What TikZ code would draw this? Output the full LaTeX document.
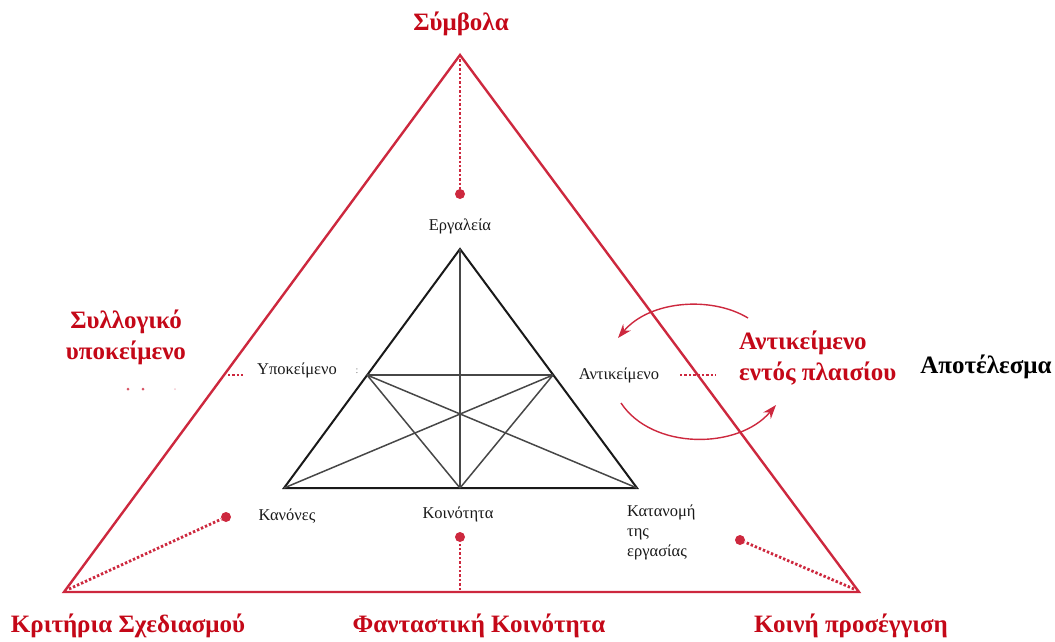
\documentclass[tikz,border=0pt]{standalone}
\usepackage{fontspec}
\setmainfont{Liberation Serif}
\usetikzlibrary{arrows.meta}
\definecolor{lred}{RGB}{205,40,62}
\definecolor{tred}{RGB}{196,8,24}
\definecolor{ink}{RGB}{25,25,25}
\tikzset{
  bigred/.style={text=tred,font=\bfseries\fontsize{25}{31}\selectfont,inner sep=0pt},
  bigblack/.style={text=black,font=\bfseries\fontsize{25}{31}\selectfont,inner sep=0pt},
  small/.style={text=ink,font=\fontsize{16.5}{20}\selectfont,inner sep=0pt},
  outer/.style={draw=lred,line width=2.4pt},
  inner/.style={draw=ink,line width=2pt},
  innerthin/.style={draw=ink!80,line width=1.5pt},
  dotline/.style={draw=lred,line width=2.8pt,dash pattern=on 2.4pt off 2pt},
  enddot/.style={fill=lred,draw=none,circle,minimum size=10pt,inner sep=0pt},
  cyc/.style={draw=lred,line width=1.4pt,-{Stealth[length=14pt,width=10pt]}}
}
\begin{document}
\begin{tikzpicture}[x=1pt,y=-1pt]
\useasboundingbox (0,0) rectangle (1055,641);
% outer triangle
\coordinate (OA) at (460,55);
\coordinate (OL) at (64,592);
\coordinate (OR) at (859,592);
\draw[outer,line join=miter] (OA) -- (OL) -- (OR) -- cycle;
% inner triangle
\coordinate (IA) at (460,249);
\coordinate (IL) at (284,488);
\coordinate (IR) at (637,488);
\coordinate (IB) at (460,488);
\coordinate (ML) at (367,375);
\coordinate (MR) at (553,375);
\draw[inner] (IA) -- (IL) -- (IR) -- cycle;
\draw[innerthin] (IA) -- (IB);
\draw[innerthin] (ML) -- (MR);
\draw[innerthin] (ML) -- (IB) (ML) -- (IR);
\draw[innerthin] (MR) -- (IB) (MR) -- (IL);
% dotted connectors
\node[enddot] (d1) at (460,194) {};
\draw[dotline] (OA) -- (d1);
\node[enddot] (d2) at (226,517) {};
\coordinate (c2) at (69,589);
\draw[dotline] (c2) -- (d2);
\node[enddot] (d3) at (460,537) {};
\coordinate (c3) at (460,590);
\draw[dotline] (c3) -- (d3);
\node[enddot] (d4) at (740,540) {};
\coordinate (c4) at (854,589);
\draw[dotline] (c4) -- (d4);
\coordinate (l1) at (228,375);
\coordinate (l2) at (243,375);
\draw[dotline] (l1) -- (l2);
\coordinate (r1) at (680,375);
\coordinate (r2) at (716,375);
\draw[dotline] (r1) -- (r2);
% faint remnants
\fill[lred!80] (128,389) circle (1.5pt) (143,389) circle (1.5pt);
\fill[lred!25] (175,389) circle (1pt);
% cycle arrows
\coordinate (t1) at (748,318);
\coordinate (t2) at (618,338);
\draw[cyc] (t1) .. controls (712,296) and (650,300) .. (t2);
\coordinate (b1) at (621,403);
\coordinate (b2) at (776,405);
\draw[cyc] (b1) .. controls (652,450) and (738,450) .. (b2);
% big labels
\node[bigred] (sym) at (461,24) {Σύμβολα};
\node[bigred,align=center] (syl) at (126,337) {Συλλογικό\\υποκείμενο};
\node[bigred,align=left,anchor=west] (ant) at (739,358) {Αντικείμενο\\εντός πλαισίου};
\node[bigblack] (apo) at (986,367) {Αποτέλεσμα};
\node[bigred] (kri) at (128,626) {Κριτήρια Σχεδιασμού};
\node[bigred] (fan) at (479,626) {Φανταστική Κοινότητα};
\node[bigred] (koi) at (851,626) {Κοινή προσέγγιση};
% small labels
\node[small] (erg) at (460,226) {Εργαλεία};
\node[small] (ypo) at (297,370) {Υποκείμενο};
\node[small] (antk) at (619,375) {Αντικείμενο};
\node[small] (kan) at (287,516) {Κανόνες};
\node[small] (koin) at (458,514) {Κοινότητα};
\node[small,align=left,anchor=north west] (kat) at (627,505) {Κατανομή\\της\\εργασίας};
\node[text=ink!60,font=\fontsize{10}{10}\selectfont,inner sep=0pt] (col) at (357,371) {:};
\end{tikzpicture}
\end{document}
